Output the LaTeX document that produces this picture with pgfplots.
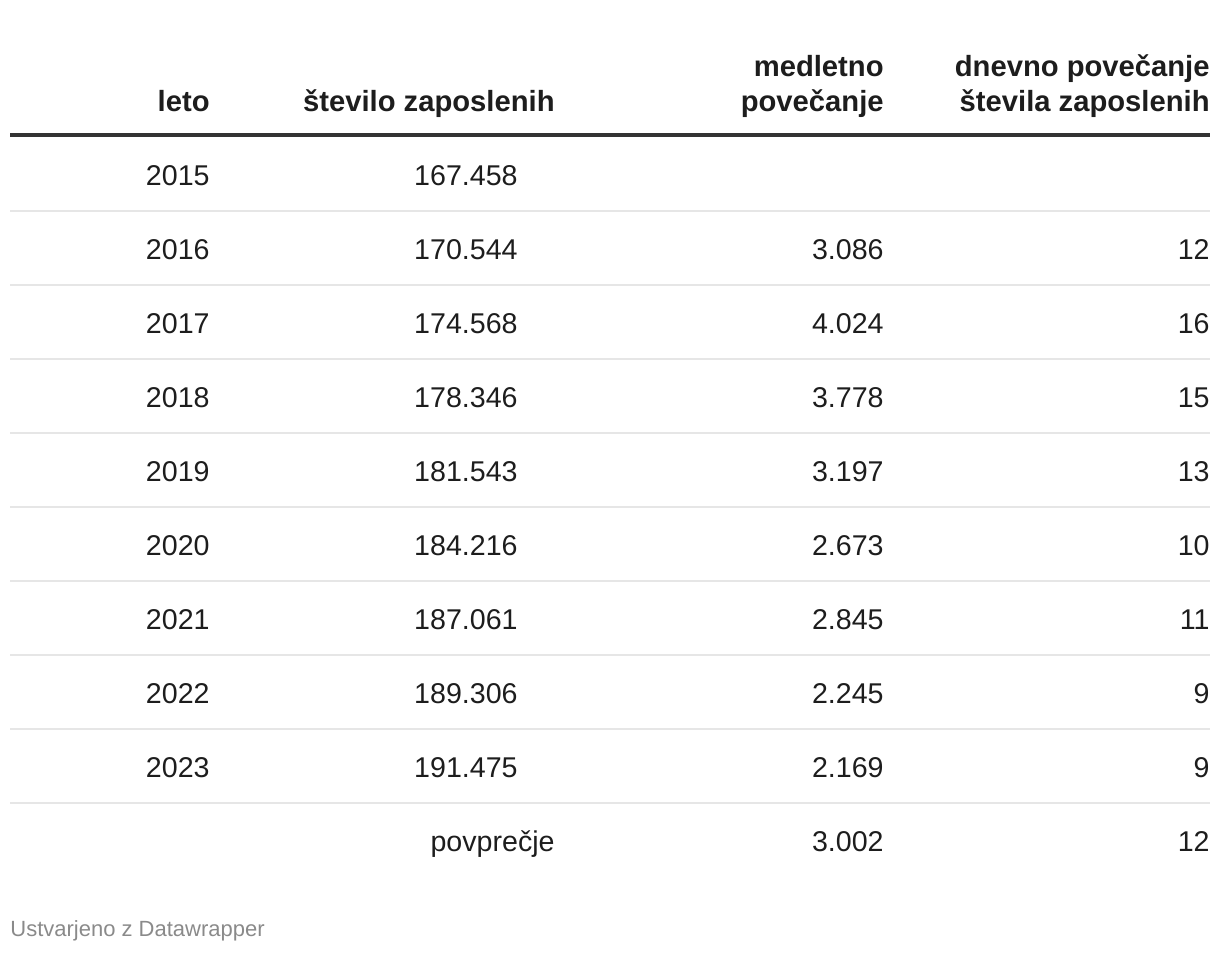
\documentclass[border=0pt]{standalone}
\usepackage{pgfplots}
\usepackage{pgfplotstable}
\pgfplotsset{compat=1.18}
\usepackage{fontspec}
\setmainfont{Liberation Sans}
\definecolor{txt}{HTML}{1D1D1D}
\definecolor{rulec}{HTML}{333333}
\definecolor{sepc}{HTML}{E6E6E6}
\definecolor{foot}{HTML}{8A8A8A}

% x = right edge of the column (px), r = row index, v = value
\pgfplotstableread{
x r v
210 0 2015
210 1 2016
210 2 2017
210 3 2018
210 4 2019
210 5 2020
210 6 2021
210 7 2022
210 8 2023
}\years
\pgfplotstableread{
x r v
518 0 167458
518 1 170544
518 2 174568
518 3 178346
518 4 181543
518 5 184216
518 6 187061
518 7 189306
518 8 191475
}\zaposleni
\pgfplotstableread{
x r v
884 1 3086
884 2 4024
884 3 3778
884 4 3197
884 5 2673
884 6 2845
884 7 2245
884 8 2169
884 9 3002
}\medletno
\pgfplotstableread{
x r v
1210 1 12
1210 2 16
1210 3 15
1210 4 13
1210 5 10
1210 6 11
1210 7 9
1210 8 9
1210 9 12
}\dnevno

\newcommand{\bodyfont}{\fontsize{14.3}{17}\selectfont}
\newcommand{\headfont}{\fontsize{14.6}{17.5}\selectfont\bfseries}

\pgfplotsset{
  cell/.style={
    only marks, mark=none,
    point meta=explicit,
    nodes near coords={\pgfmathprintnumber[fixed,precision=0,1000 sep={#1},assume math mode=true]{\pgfplotspointmeta}},
    nodes near coords style={anchor=base east, inner sep=0pt, font=\bodyfont, text=txt},
  },
  sepline/.style={sepc, line width=0.8pt, forget plot},
}

\begin{document}
\begin{tikzpicture}
\begin{axis}[
  scale only axis,
  width=610pt, height=477pt,
  xmin=0, xmax=1220,
  ymin=-2.5, ymax=10.392,
  y dir=reverse,
  hide axis,
  clip=false,
]
\path (axis cs:0,-2.5) rectangle (axis cs:1220,10.392);

% rules
\addplot[rulec, line width=2pt, forget plot] coordinates {(10,-0.676) (1210,-0.676)};
\addplot[sepline] coordinates {(10,0.351) (1210,0.351)};
\addplot[sepline] coordinates {(10,1.351) (1210,1.351)};
\addplot[sepline] coordinates {(10,2.351) (1210,2.351)};
\addplot[sepline] coordinates {(10,3.351) (1210,3.351)};
\addplot[sepline] coordinates {(10,4.351) (1210,4.351)};
\addplot[sepline] coordinates {(10,5.351) (1210,5.351)};
\addplot[sepline] coordinates {(10,6.351) (1210,6.351)};
\addplot[sepline] coordinates {(10,7.351) (1210,7.351)};
\addplot[sepline] coordinates {(10,8.351) (1210,8.351)};

% values
\addplot[cell={}] table[x=x, y=r, meta=v] {\years};
\addplot[cell={.}] table[x=x, y=r, meta=v] {\zaposleni};
\addplot[cell={.}] table[x=x, y=r, meta=v] {\medletno};
\addplot[cell={.}] table[x=x, y=r, meta=v] {\dnevno};

% headers
\node[anchor=base east, inner sep=0pt, font=\headfont, text=txt] at (axis cs:210,-1.0) {leto};
\node[anchor=base east, inner sep=0pt, font=\headfont, text=txt] at (axis cs:555,-1.0) {število zaposlenih};
\node[anchor=base east, inner sep=0pt, font=\headfont, text=txt] at (axis cs:884,-1.473) {medletno};
\node[anchor=base east, inner sep=0pt, font=\headfont, text=txt] at (axis cs:884,-1.0) {povečanje};
\node[anchor=base east, inner sep=0pt, font=\headfont, text=txt] at (axis cs:1210,-1.473) {dnevno povečanje};
\node[anchor=base east, inner sep=0pt, font=\headfont, text=txt] at (axis cs:1210,-1.0) {števila zaposlenih};

% average label
\node[anchor=base east, inner sep=0pt, font=\bodyfont, text=txt] at (axis cs:555,9) {povprečje};

% footer
\node[anchor=base west, inner sep=0pt, font=\fontsize{11}{13}\selectfont, text=foot] at (axis cs:10,10.16) {Ustvarjeno z Datawrapper};
\end{axis}
\end{tikzpicture}
\end{document}
